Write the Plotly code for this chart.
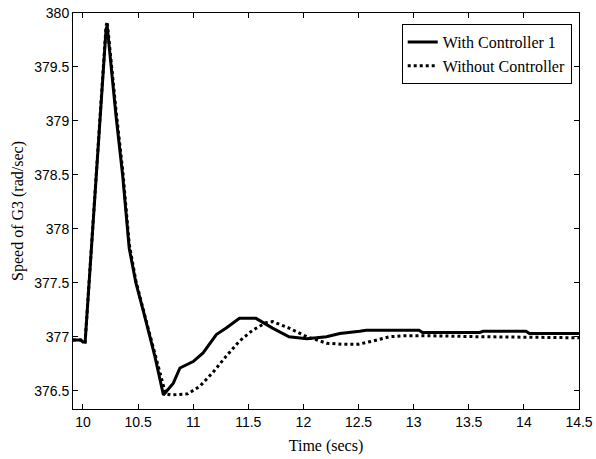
import plotly.graph_objects as go

# Data
t_with = [9.91, 9.98, 10.0, 10.02, 10.21, 10.22, 10.30, 10.36, 10.42, 10.48, 10.56, 10.65, 10.73,
          10.82, 10.88, 11.0, 11.09, 11.21, 11.30, 11.42, 11.57, 11.72, 11.87, 12.03, 12.21,
          12.33, 12.51, 12.57, 13.05, 13.08, 13.6, 13.63, 14.02, 14.05, 14.5]
v_with = [376.97, 376.97, 376.95, 376.95, 379.85, 379.88, 379.05, 378.5, 377.82, 377.5, 377.19, 376.83, 376.46,
          376.57, 376.71, 376.77, 376.85, 377.02, 377.08, 377.17, 377.17, 377.08, 377.0, 376.98, 377.0,
          377.03, 377.05, 377.06, 377.06, 377.04, 377.04, 377.05, 377.05, 377.03, 377.03]

t_without = [9.91, 9.98, 10.0, 10.02, 10.21, 10.22, 10.30, 10.36, 10.42, 10.48, 10.56, 10.65, 10.75,
             10.80, 10.95, 11.06, 11.18, 11.30, 11.42, 11.54, 11.66, 11.72, 11.87, 12.03, 12.21,
             12.35, 12.5, 12.63, 12.78, 12.93, 13.08, 13.6, 14.5]
v_without = [376.97, 376.97, 376.95, 376.95, 379.88, 379.92, 379.1, 378.55, 377.86, 377.52, 377.2, 376.85, 376.47,
             376.46, 376.47, 376.54, 376.67, 376.82, 376.96, 377.06, 377.13, 377.14, 377.08, 377.0, 376.94,
             376.93, 376.93, 376.96, 377.0, 377.01, 377.01, 377.0, 376.99]

x_ticks = [10, 10.5, 11, 11.5, 12, 12.5, 13, 13.5, 14, 14.5]
y_ticks = [376.5, 377, 377.5, 378, 378.5, 379, 379.5, 380]

fig = go.Figure()
fig.add_trace(go.Scatter(x=t_with, y=v_with, mode="lines", name="With Controller 1",
                         line=dict(color="black", width=3)))
fig.add_trace(go.Scatter(x=t_without, y=v_without, mode="lines", name="Without Controller",
                         line=dict(color="black", width=3, dash="dot")))

axis_common = dict(showgrid=False, zeroline=False, showline=True, linecolor="black", linewidth=1,
                   mirror="ticks", ticks="inside", ticklen=5, tickcolor="black", automargin=False,
                   tickfont=dict(family="Liberation Sans, Arial", size=14, color="black"))

serif = "Liberation Serif, Times New Roman"

fig.update_layout(
    width=596, height=459,
    margin=dict(l=73, r=17, t=13, b=50),
    paper_bgcolor="white", plot_bgcolor="white",
    xaxis=dict(range=[9.91, 14.5], tickvals=x_ticks, ticktext=[str(v) for v in x_ticks],
               title=dict(text="Time (secs)", standoff=11,
                          font=dict(family=serif, size=16, color="black")),
               **axis_common),
    yaxis=dict(range=[376.33, 380.0], tickvals=y_ticks, ticktext=[str(v) for v in y_ticks],
               title=dict(text="Speed of G3 (rad/sec)", standoff=6,
                          font=dict(family=serif, size=16, color="black")),
               **axis_common),
    legend=dict(x=0.9856, y=0.972, xanchor="right", yanchor="top",
                bgcolor="white", bordercolor="black", borderwidth=1,
                font=dict(family=serif, size=16, color="black"),
                tracegroupgap=0),
    showlegend=True,
)

fig.write_html("out.html")
